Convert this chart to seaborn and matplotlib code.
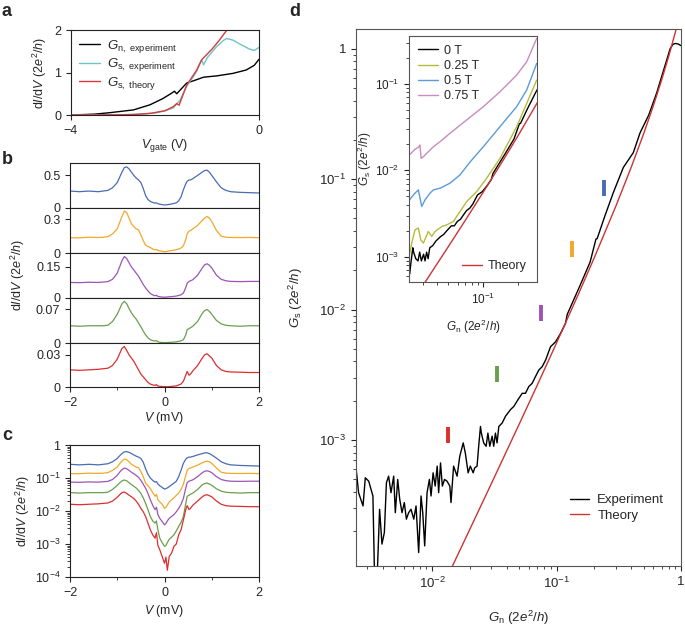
import numpy as np
import matplotlib
matplotlib.use('Agg')
import matplotlib.pyplot as plt
import matplotlib.ticker as mticker
import seaborn as sns

# ---- panel a: conductance vs gate voltage ----
vgate_n = [-4.0, -3.5, -3.17, -2.67, -2.32, -2.04, -1.85, -1.8, -1.75, -1.7, -1.54, -1.33, -1.18, -0.9, -0.55, -0.27, -0.1, 0.0]
gn_vgate = [0.0, 0.02, 0.055, 0.12, 0.24, 0.39, 0.52, 0.56, 0.50, 0.56, 0.75, 0.83, 0.89, 0.92, 0.98, 1.06, 1.17, 1.31]
vgate_s = [-4.0, -3.0, -2.5, -2.2, -2.0, -1.82, -1.68, -1.54, -1.4, -1.33, -1.25, -1.22, -1.18, -1.1, -0.9, -0.75, -0.69, -0.55, -0.41, -0.2, -0.1, 0.0]
gs_vgate = [0.0, 0.005, 0.02, 0.05, 0.1, 0.17, 0.35, 0.67, 0.9, 1.02, 1.22, 1.3, 1.18, 1.35, 1.61, 1.76, 1.8, 1.76, 1.67, 1.55, 1.52, 1.59]
vgate_th = [-4.0, -3.0, -2.67, -2.3, -2.0, -1.82, -1.75, -1.7, -1.54, -1.33, -1.22, -1.0, -0.85, -0.65]
gs_th_vgate = [0.0, 0.003, 0.01, 0.04, 0.1, 0.2, 0.27, 0.23, 0.7, 1.05, 1.3, 1.55, 1.75, 2.05]

# ---- panels b, c: dI/dV vs bias for five gate settings ----
bias_mv = [-2.0, -1.8, -1.6, -1.4, -1.3, -1.2, -1.1, -1.0,
           -0.95, -0.9, -0.85, -0.8, -0.75, -0.7, -0.65, -0.6,
           -0.55, -0.5, -0.45, -0.4, -0.35, -0.3, -0.25, -0.2,
           -0.17, -0.14, -0.1, -0.05, 0.0, 0.03, 0.06, 0.1,
           0.15, 0.2, 0.25, 0.3, 0.35, 0.4, 0.45, 0.48,
           0.52, 0.55, 0.6, 0.7, 0.8, 0.85, 0.9, 0.95,
           1.0, 1.1, 1.2, 1.3, 1.4, 1.6, 1.8, 2.0]
didv_blue = [0.26, 0.25, 0.26, 0.25, 0.26, 0.27, 0.31, 0.39,
             0.47, 0.55, 0.62, 0.63, 0.60, 0.55, 0.50, 0.46,
             0.43, 0.39, 0.30, 0.19, 0.13, 0.10, 0.085, 0.075,
             0.078, 0.066, 0.058, 0.052, 0.046, 0.048, 0.05, 0.055,
             0.062, 0.07, 0.08, 0.11, 0.17, 0.28, 0.37, 0.41,
             0.43, 0.43, 0.45, 0.50, 0.55, 0.575, 0.58, 0.55,
             0.50, 0.40, 0.31, 0.27, 0.25, 0.24, 0.235, 0.23]
didv_orange = [0.136, 0.135, 0.14, 0.138, 0.14, 0.145, 0.17, 0.215,
               0.27, 0.325, 0.373, 0.36, 0.31, 0.26, 0.235, 0.215,
               0.205, 0.16, 0.11, 0.07, 0.058, 0.048, 0.036, 0.028,
               0.032, 0.022, 0.019, 0.016, 0.012, 0.013, 0.015, 0.019,
               0.022, 0.025, 0.03, 0.035, 0.045, 0.065, 0.12, 0.17,
               0.195, 0.2, 0.215, 0.245, 0.29, 0.31, 0.325, 0.31,
               0.28, 0.2, 0.15, 0.14, 0.138, 0.137, 0.138, 0.136]
didv_purple = [0.075, 0.074, 0.076, 0.075, 0.077, 0.079, 0.09, 0.12,
               0.15, 0.18, 0.2, 0.19, 0.17, 0.15, 0.135, 0.12,
               0.105, 0.085, 0.065, 0.049, 0.034, 0.022, 0.015, 0.011,
               0.013, 0.0078, 0.006, 0.0048, 0.0038, 0.0042, 0.005, 0.006,
               0.0068, 0.0078, 0.0095, 0.012, 0.016, 0.024, 0.05, 0.072,
               0.08, 0.083, 0.088, 0.11, 0.145, 0.16, 0.165, 0.158,
               0.145, 0.11, 0.09, 0.083, 0.08, 0.079, 0.08, 0.08]
didv_green = [0.036, 0.035, 0.036, 0.036, 0.036, 0.037, 0.045, 0.06,
              0.071, 0.082, 0.087, 0.082, 0.072, 0.063, 0.056, 0.05,
              0.042, 0.034, 0.025, 0.017, 0.011, 0.0068, 0.005, 0.0043,
              0.005, 0.0027, 0.0015, 0.0011, 0.00085, 0.0009, 0.0011, 0.0014,
              0.0016, 0.0019, 0.0025, 0.0034, 0.0045, 0.0068, 0.017, 0.028,
              0.03, 0.032, 0.035, 0.045, 0.062, 0.068, 0.07, 0.066,
              0.06, 0.047, 0.04, 0.037, 0.036, 0.035, 0.036, 0.036]
didv_red = [0.016, 0.0155, 0.016, 0.0165, 0.017, 0.0175, 0.02, 0.026,
            0.031, 0.036, 0.0377, 0.034, 0.03, 0.027, 0.024, 0.02,
            0.016, 0.012, 0.0095, 0.0068, 0.0043, 0.0027, 0.0019, 0.0015,
            0.0022, 0.0009, 0.00067, 0.00042, 0.00026, 0.0004, 0.00016, 0.00042,
            0.00053, 0.00085, 0.001, 0.0019, 0.0027, 0.0054, 0.011, 0.0145,
            0.011, 0.012, 0.015, 0.02, 0.027, 0.03, 0.031, 0.029,
            0.027, 0.02, 0.016, 0.0145, 0.014, 0.0138, 0.0135, 0.0135]
b_ymax = [0.69, 0.40, 0.217, 0.094, 0.041]
b_ytick = [0.5, 0.3, 0.15, 0.07, 0.03]
b_ytick_label = ['0.5', '0.3', '0.15', '0.07', '0.03']

# ---- panel d: Gs vs Gn ----
gn_exp = [0.00246, 0.00257, 0.00279, 0.00291, 0.0031, 0.00335, 0.00346, 0.00361, 0.00379, 0.00396,
          0.00414, 0.0043, 0.00448, 0.00468, 0.00492, 0.00507, 0.0053, 0.0055, 0.00574, 0.00599,
          0.00622, 0.00649, 0.00678, 0.00713, 0.00744, 0.00781, 0.00816, 0.00842, 0.00873, 0.00912,
          0.00952, 0.00982, 0.0102, 0.0106, 0.011, 0.0113, 0.0117, 0.0121, 0.0126, 0.0132,
          0.0139, 0.0142, 0.0149, 0.0159, 0.0167, 0.0178, 0.0185, 0.0195, 0.0203, 0.0214,
          0.022, 0.023, 0.0237, 0.0245, 0.0249, 0.026, 0.0272, 0.0281, 0.0291, 0.0304,
          0.0313, 0.0323, 0.0333, 0.0344, 0.0366, 0.0389, 0.0427, 0.0454, 0.0489, 0.053,
          0.0563, 0.0599, 0.0637, 0.0677, 0.0721, 0.0767, 0.0817, 0.0895, 0.0982, 0.1077,
          0.118, 0.122, 0.1545, 0.186, 0.2075, 0.212, 0.245, 0.286, 0.344, 0.414,
          0.469, 0.55, 0.638, 0.767, 0.817, 0.86, 0.896, 0.95, 0.995]
gs_exp = [5.94e-4, 3.94e-4, 3.12e-4, 5.13e-4, 4.83e-4, 3.72e-4, 8e-5, 8e-5, 2.94e-4, 1.59e-4,
          1.95e-4, 4.70e-4, 5.28e-4, 3.94e-4, 5.28e-4, 2.77e-4, 4.98e-4, 3.51e-4, 2.77e-4, 3.31e-4,
          2.47e-4, 2.77e-4, 2.94e-4, 2.47e-4, 3.12e-4, 1.37e-4, 3.72e-4, 2.77e-4, 1.54e-4, 3.94e-4,
          4.98e-4, 3.72e-4, 5.6e-4, 4.43e-4, 6.3e-4, 3.94e-4, 6.67e-4, 4.43e-4, 4.98e-4, 4.83e-4,
          4.43e-4, 3.31e-4, 6.3e-4, 5.28e-4, 7.5e-4, 9.5e-4, 7.96e-4, 5.6e-4, 6.3e-4, 5.6e-4,
          6.1e-4, 6.3e-4, 8.95e-4, 1.27e-3, 1.13e-3, 9.5e-4, 8.95e-4, 1.13e-3, 8.95e-4, 1.07e-3,
          8.95e-4, 1.13e-3, 9.5e-4, 1.27e-3, 1.35e-3, 1.52e-3, 1.71e-3, 1.81e-3, 2.03e-3, 2.28e-3,
          2.28e-3, 2.57e-3, 2.72e-3, 3.06e-3, 3.44e-3, 3.65e-3, 4.1e-3, 5.19e-3, 5.66e-3, 6.56e-3,
          7.82e-3, 9.2e-3, 0.0153, 0.0231, 0.0348, 0.0350, 0.0525, 0.079, 0.123, 0.16,
          0.227, 0.31, 0.46, 0.82, 1.0, 1.08, 1.1, 1.09, 1.06]
gn_theory = [0.014, 0.02, 0.03, 0.05, 0.07, 0.1, 0.15, 0.2, 0.3, 0.4, 0.5, 0.6, 0.7, 0.8, 0.9, 0.95, 1.0]
gs_theory = [9.94e-5, 2.04e-4, 4.64e-4, 1.315e-3, 2.63e-3, 5.54e-3, 0.01315, 0.0247, 0.0623,
             0.125, 0.222, 0.367, 0.580, 0.889, 1.339, 1.637, 2.0]
mark_gn = [0.0135, 0.033, 0.075, 0.134, 0.24]
mark_gs = [0.0011, 0.0032, 0.0095, 0.029, 0.085]

# inset: field dependence
gn_025 = [0.0229, 0.024, 0.0256, 0.0274, 0.0287, 0.0303, 0.0334, 0.0358, 0.0383, 0.0438,
          0.0484, 0.0552, 0.0631, 0.0721, 0.0882, 0.1077, 0.1315, 0.1406, 0.1963, 0.293]
gs_025 = [0.00105, 0.00144, 0.00205, 0.00215, 0.00157, 0.00144, 0.00196, 0.00172, 0.00196, 0.00224,
          0.00234, 0.00256, 0.00334, 0.00436, 0.00569, 0.00813, 0.0121, 0.0138, 0.032, 0.111]
gn_05 = [0.0229, 0.0256, 0.0274, 0.0283, 0.0293, 0.0313, 0.0346, 0.037, 0.0423, 0.0516,
         0.0631, 0.0771, 0.1007, 0.1406, 0.1963, 0.2399, 0.293]
gs_05 = [0.00456, 0.00545, 0.00595, 0.00478, 0.00382, 0.00456, 0.00545, 0.00595, 0.00622, 0.00711,
         0.00887, 0.0125, 0.0188, 0.0321, 0.0547, 0.0853, 0.173]
gn_075 = [0.0229, 0.0256, 0.0274, 0.0283, 0.0289, 0.0303, 0.0324, 0.037, 0.0423, 0.0516,
          0.0721, 0.1007, 0.1406, 0.1963, 0.2399, 0.293]
gs_075 = [0.0151, 0.0176, 0.0185, 0.0197, 0.0138, 0.0144, 0.0158, 0.0188, 0.0215, 0.0269,
          0.0384, 0.0547, 0.0815, 0.127, 0.181, 0.337]

trace_colors = ['#4a6bb5', '#f2a82a', '#9c55b5', '#6a9e4f', '#dd2e2e']
didv_all = [didv_blue, didv_orange, didv_purple, didv_green, didv_red]

sns.set_theme(style='ticks')
plt.rcParams['font.family'] = ['Liberation Sans', 'DejaVu Sans']
plt.rcParams.update({
    'mathtext.fontset': 'custom',
    'mathtext.rm': 'Liberation Sans',
    'mathtext.it': 'Liberation Sans:italic',
    'mathtext.bf': 'Liberation Sans:bold',
    'font.size': 9,
    'axes.linewidth': 0.8,
    'axes.edgecolor': '#222222',
    'xtick.labelsize': 9, 'ytick.labelsize': 9,
    'xtick.major.size': 3.5, 'ytick.major.size': 3.5,
    'xtick.minor.size': 2, 'ytick.minor.size': 2,
    'xtick.major.width': 0.8, 'ytick.major.width': 0.8,
    'xtick.minor.width': 0.6, 'ytick.minor.width': 0.6,
    'axes.labelsize': 9,
})

W, H = 685, 629
fig = plt.figure(figsize=(W / 100, H / 100), dpi=100)


def box(l, t, r, b):
    return fig.add_axes([l / W, 1 - b / H, (r - l) / W, (b - t) / H])


def pow10(v, pos):
    e = int(round(np.log10(v)))
    return '1' if e == 0 else r'$10^{%d}$' % e


def log_ticks(axis):
    axis.set_major_locator(mticker.LogLocator(base=10, numticks=12))
    axis.set_minor_locator(mticker.LogLocator(base=10, subs=np.arange(2, 10), numticks=12))
    axis.set_major_formatter(mticker.FuncFormatter(pow10))
    axis.set_minor_formatter(mticker.NullFormatter())


didv_label = r'd$I$/d$V$ (2$e^2$/$h$)'
kw = dict(estimator=None, sort=False, legend=False)

# ---- a ----
ax_a = box(71, 30, 259, 115)
sns.lineplot(x=vgate_n, y=gn_vgate, color='black', lw=1, ax=ax_a, label=r'$G_{\mathrm{n,\ experiment}}$', estimator=None, sort=False)
sns.lineplot(x=vgate_s, y=gs_vgate, color='#6cc5c5', lw=1, ax=ax_a, label=r'$G_{\mathrm{s,\ experiment}}$', estimator=None, sort=False)
sns.lineplot(x=vgate_th, y=gs_th_vgate, color='#d83a3a', lw=1, ax=ax_a, label=r'$G_{\mathrm{s,\ theory}}$', estimator=None, sort=False)
ax_a.set_xlim(-4, 0)
ax_a.set_ylim(0, 2)
ax_a.set_xticks([-4, 0])
ax_a.set_yticks([0, 1, 2])
ax_a.set_xlabel(r'$V_{\mathrm{gate}}$ (V)', labelpad=0)
ax_a.set_ylabel(didv_label, labelpad=4)
ax_a.legend(loc='upper left', frameon=False, fontsize=9.5, handlelength=1.6,
            handletextpad=0.5, labelspacing=0.1, borderaxespad=0.2)

# ---- b ----
edges = [163, 208, 253, 298, 343, 387]
for i, (vals, col) in enumerate(zip(didv_all, trace_colors)):
    ax = box(70, edges[i], 259, edges[i + 1])
    sns.lineplot(x=bias_mv, y=vals, color=col, lw=0.9, ax=ax, **kw)
    ax.set_xlim(-2, 2)
    ax.set_ylim(0, b_ymax[i])
    ax.set_yticks([0, b_ytick[i]])
    ax.set_yticklabels(['0', b_ytick_label[i]])
    ax.set_ylabel('')
    if i < 4:
        ax.tick_params(axis='x', bottom=False, labelbottom=False)
    else:
        ax.set_xticks([-2, 0, 2])
        ax.set_xticks([-1, 1], minor=True)
        ax.set_xlabel(r'$V$ (mV)', labelpad=1)
fig.text(18 / W, 1 - 275 / H, didv_label, rotation=90, ha='center', va='center', fontsize=9)

# ---- c ----
ax_c = box(70, 445, 259, 577)
for vals, col in zip(didv_all, trace_colors):
    sns.lineplot(x=bias_mv, y=vals, color=col, lw=0.9, ax=ax_c, **kw)
ax_c.set_yscale('log')
log_ticks(ax_c.yaxis)
ax_c.set_ylim(1e-4, 1)
ax_c.set_xlim(-2, 2)
ax_c.set_xticks([-2, 0, 2])
ax_c.set_xticks([-1, 1], minor=True)
ax_c.set_xlabel(r'$V$ (mV)', labelpad=3)
ax_c.set_ylabel(didv_label, labelpad=2)

# ---- d ----
ax_d = box(356, 29, 681, 566)
sns.lineplot(x=gn_exp, y=gs_exp, color='black', lw=1, ax=ax_d, label='Experiment', estimator=None, sort=False)
sns.lineplot(x=gn_theory, y=gs_theory, color='#cc3333', lw=1, ax=ax_d, label='Theory', estimator=None, sort=False)
for g_n, g_s, col in zip(mark_gn, mark_gs, trace_colors[::-1]):
    ax_d.plot([g_n], [g_s], marker='|', ms=11, mew=2.8, color=col, ls='none')
ax_d.set_xscale('log')
ax_d.set_yscale('log')
log_ticks(ax_d.xaxis)
log_ticks(ax_d.yaxis)
ax_d.set_xlim(0.00245, 1)
ax_d.set_ylim(1.08e-4, 1.42)
ax_d.tick_params(labelsize=9.5)
for s in ax_d.spines.values():
    s.set_color('#555555')
ax_d.set_xlabel(r'$G_{\mathrm{n}}$ (2$e^2$/$h$)', fontsize=9.5, labelpad=13)
ax_d.set_ylabel(r'$G_{\mathrm{s}}$ (2$e^2$/$h$)', fontsize=9.5, labelpad=10)
ax_d.legend(loc='lower right', frameon=False, fontsize=9.5, handlelength=1.5,
            handletextpad=0.6, labelspacing=0.25, bbox_to_anchor=(0.985, 0.06))

# inset
ax_in = box(409, 36, 537, 282)
sns.lineplot(x=gn_exp, y=gs_exp, color='black', lw=1, ax=ax_in, label='0 T', estimator=None, sort=False)
sns.lineplot(x=gn_025, y=gs_025, color='#b3bd3a', lw=1, ax=ax_in, label='0.25 T', estimator=None, sort=False)
sns.lineplot(x=gn_05, y=gs_05, color='#5b9bd8', lw=1, ax=ax_in, label='0.5 T', estimator=None, sort=False)
sns.lineplot(x=gn_075, y=gs_075, color='#c98cc0', lw=1, ax=ax_in, label='0.75 T', estimator=None, sort=False)
th_line = ax_in.plot(gn_theory, gs_theory, color='#cc3333', lw=1)[0]
ax_in.set_xscale('log')
ax_in.set_yscale('log')
log_ticks(ax_in.xaxis)
log_ticks(ax_in.yaxis)
ax_in.set_xlim(0.0227, 0.295)
ax_in.set_ylim(5.1e-4, 0.36)
ax_in.tick_params(labelsize=8.5)
for s in ax_in.spines.values():
    s.set_color('#555555')
ax_in.set_xlabel(r'$G_{\mathrm{n}}$ (2$e^2$/$h$)', fontsize=8.5, labelpad=8)
ax_in.set_ylabel(r'$G_{\mathrm{s}}$ (2$e^2$/$h$)', fontsize=8.5, labelpad=1)
leg1 = ax_in.legend(loc='upper left', frameon=False, fontsize=9, handlelength=1.6,
                    handletextpad=0.5, labelspacing=0.25, borderaxespad=0.3)
ax_in.add_artist(leg1)
ax_in.legend([th_line], ['Theory'], loc='lower right', frameon=False, fontsize=9,
             handlelength=1.6, handletextpad=0.5, borderaxespad=0.4)

# panel letters
for letter, (px, py) in zip('abcd', [(2, 12), (2, 160), (2, 436), (289, 12)]):
    fig.text(px / W, 1 - py / H, letter, fontsize=13, fontweight='bold', ha='left', va='center')

fig.savefig('out.png', dpi=100)
